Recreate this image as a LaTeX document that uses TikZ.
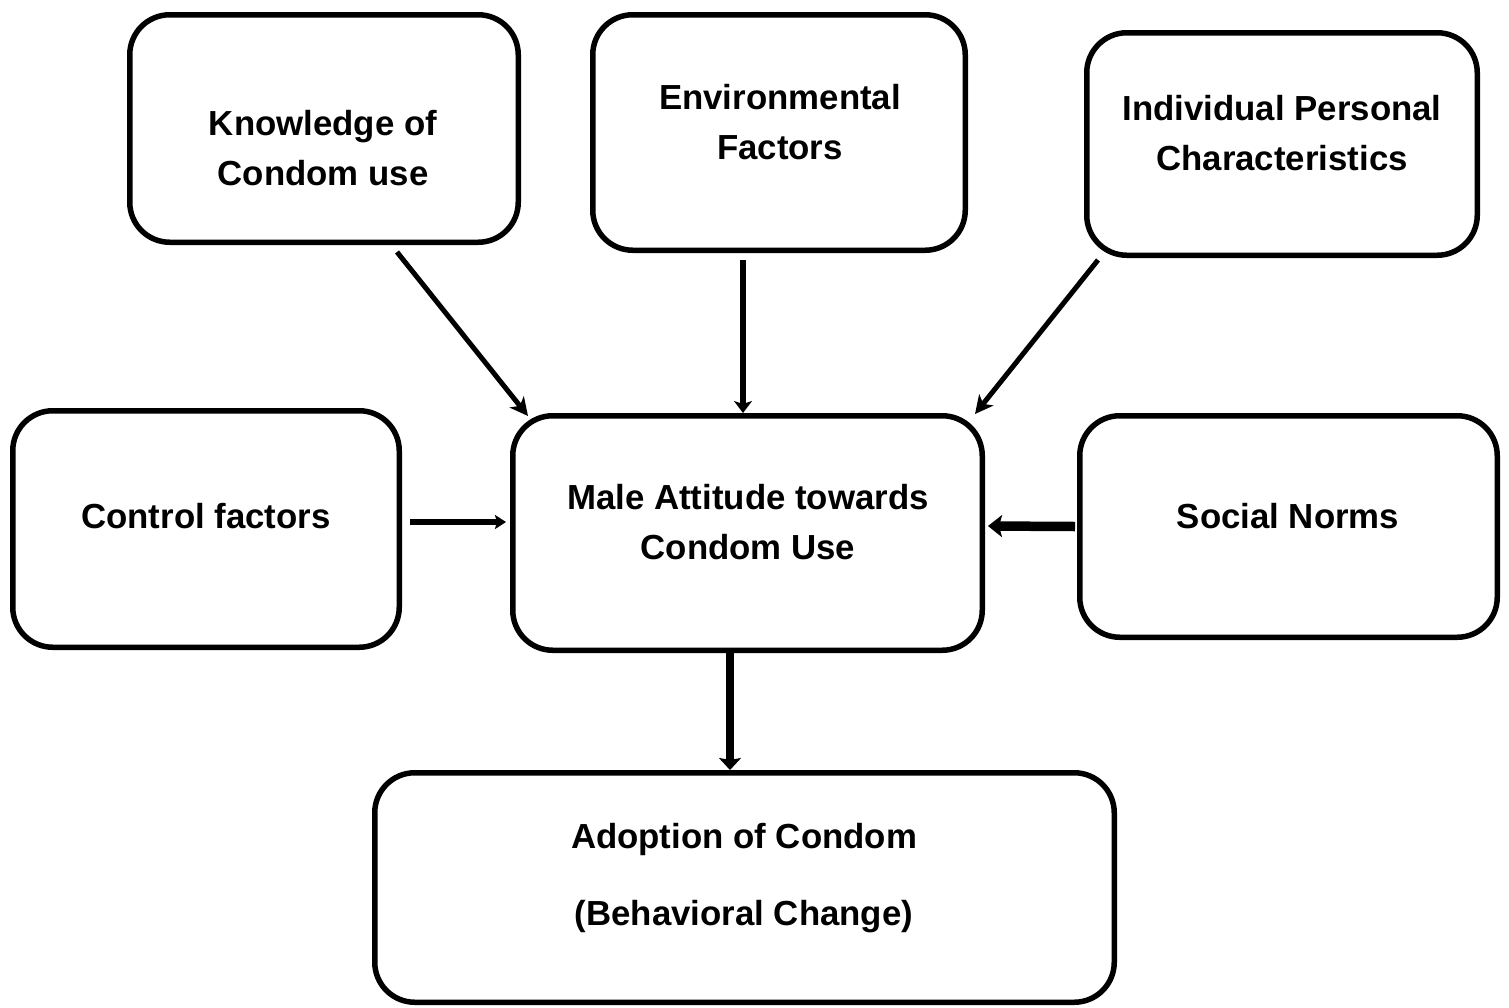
\documentclass[tikz,border=0pt]{standalone}
\usepackage{fontspec}
\setmainfont{Liberation Sans}
\usetikzlibrary{arrows.meta, calc, positioning}

\begin{document}
\begin{tikzpicture}[x=0.5pt, y=-0.5pt,
    box/.style={draw, line width=2.75pt, rounded corners=20pt, inner sep=0pt},
    lbl/.style={align=center, font=\fontsize{17.4}{25}\selectfont\bfseries},
    arr/.style={line width=2.5pt, -{Stealth[length=9pt, width=9pt, inset=2.5pt]}}]
    \useasboundingbox (0,0) rectangle (1509,1007);
    % Boxes
    \node[box, minimum width=194.25pt, minimum height=113.75pt] (know) at (324,128.5) {};
    \node[box, minimum width=186.25pt, minimum height=117.75pt] (env) at (779,132.5) {};
    \node[box, minimum width=195.25pt, minimum height=111.25pt] (indiv) at (1282,144) {};
    \node[box, minimum width=193.25pt, minimum height=118.25pt] (ctrl) at (206,529) {};
    \node[box, minimum width=234.75pt, minimum height=117.25pt] (att) at (747.5,533) {};
    \node[box, minimum width=208.75pt, minimum height=110.75pt] (soc) at (1288.5,526.5) {};
    \node[box, minimum width=369.75pt, minimum height=114.75pt] (adopt) at (744.5,887.5) {};
    % Texts
    \node[lbl] (knowtxt) at (323,148) {Knowledge of\\Condom use};
    \node[lbl] (envtxt) at (780,122) {Environmental\\Factors};
    \node[lbl] (indivtxt) at (1282,133) {Individual Personal\\Characteristics};
    \node[lbl] (ctrltxt) at (206,516) {Control factors};
    \node[lbl] (atttxt) at (748,522) {Male Attitude towards\\Condom Use};
    \node[lbl] (soctxt) at (1288,516) {Social Norms};
    \node[lbl] (adopttxt) at (744,878) {Adoption of Condom\\[13.5pt](Behavioral Change)};
    % Arrows into the attitude box
    \draw[arr] ($(know.south)+(73,7)$) -- ($(att.north west)+(18,3)$);
    \draw[line width=3.25pt, -{Stealth[length=6pt, width=9pt, inset=1.5pt]}] ($(env.south)+(-36,7)$) -- ($(att.north)+(-4.5,0)$);
    \draw[arr] ($(indiv.south west)+(14,2)$) -- ($(att.north east)+(-10,1)$);
    \draw[line width=2.75pt, -{Stealth[length=5.5pt, width=7pt, inset=1pt]}] ($(ctrl.east)+(8,-7)$) -- ($(att.west)+(-4,-11)$);
    \draw[line width=4.75pt, -{Stealth[length=7pt, width=11pt, inset=1.5pt]}] ($(soc.west)+(-2,0)$) -- ($(att.east)+(3,-7)$);
    % Outcome
    \draw[line width=4.25pt, -{Stealth[length=6pt, width=11pt, inset=1pt]}] ($(att.south)+(-17.5,0)$) -- ($(adopt.north)+(-14.5,0)$);
\end{tikzpicture}
\end{document}
